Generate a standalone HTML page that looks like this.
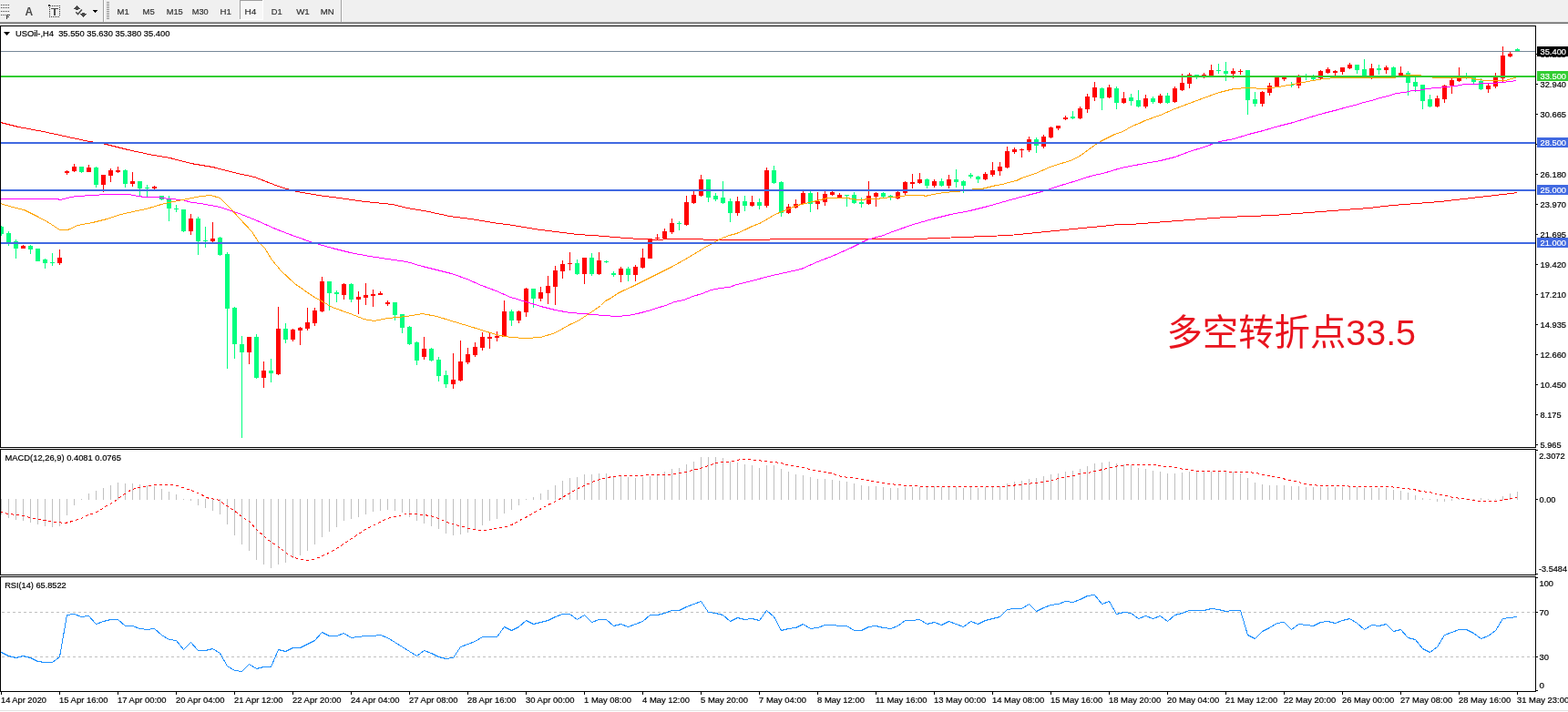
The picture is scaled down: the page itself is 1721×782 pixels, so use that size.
<!DOCTYPE html>
<html><head><meta charset="utf-8"><title>USOil H4</title>
<style>html,body{margin:0;padding:0;background:#fff;width:1721px;height:782px;overflow:hidden}svg{display:block}text{shape-rendering:auto}</style>
</head><body>
<svg width="1721" height="782" viewBox="0 0 1721 782" shape-rendering="crispEdges"><rect x="0" y="0" width="1721" height="24" fill="#f0f0f0"/>
<rect x="0" y="24" width="1721" height="1" fill="#a0a0a0"/>
<rect x="0" y="25" width="1721" height="1" fill="#696969"/>
<rect x="1" y="5" width="1" height="1" fill="#404040"/>
<rect x="3" y="5" width="1" height="1" fill="#404040"/>
<rect x="5" y="5" width="1" height="1" fill="#404040"/>
<rect x="7" y="5" width="1" height="1" fill="#404040"/>
<rect x="9" y="5" width="1" height="1" fill="#404040"/>
<rect x="1" y="8" width="1" height="1" fill="#404040"/>
<rect x="3" y="8" width="1" height="1" fill="#404040"/>
<rect x="5" y="8" width="1" height="1" fill="#404040"/>
<rect x="7" y="8" width="1" height="1" fill="#404040"/>
<rect x="9" y="8" width="1" height="1" fill="#404040"/>
<rect x="1" y="12" width="1" height="1" fill="#404040"/>
<rect x="3" y="12" width="1" height="1" fill="#404040"/>
<rect x="5" y="12" width="1" height="1" fill="#404040"/>
<rect x="7" y="12" width="1" height="1" fill="#404040"/>
<rect x="9" y="12" width="1" height="1" fill="#404040"/>
<rect x="1" y="16" width="1" height="1" fill="#404040"/>
<rect x="3" y="16" width="1" height="1" fill="#404040"/>
<rect x="5" y="16" width="1" height="1" fill="#404040"/>
<rect x="7" y="16" width="1" height="5" fill="#404040"/>
<rect x="7" y="16" width="4" height="1" fill="#404040"/>
<rect x="7" y="18" width="3" height="1" fill="#404040"/>
<text x="27.5" y="17" font-size="12" font-weight="bold" fill="#4a4a4a" font-family="Liberation Sans, sans-serif">A</text>
<rect x="57" y="6" width="1" height="1" fill="#303030"/>
<rect x="59" y="6" width="1" height="1" fill="#303030"/>
<rect x="61" y="6" width="1" height="1" fill="#303030"/>
<rect x="63" y="6" width="1" height="1" fill="#303030"/>
<rect x="65" y="6" width="1" height="1" fill="#303030"/>
<rect x="54" y="8" width="1" height="1" fill="#303030"/>
<rect x="54" y="10" width="1" height="1" fill="#303030"/>
<rect x="54" y="12" width="1" height="1" fill="#303030"/>
<rect x="54" y="14" width="1" height="1" fill="#303030"/>
<rect x="54" y="16" width="1" height="1" fill="#303030"/>
<rect x="54" y="18" width="1" height="1" fill="#303030"/>
<rect x="65" y="8" width="1" height="1" fill="#303030"/>
<rect x="65" y="10" width="1" height="1" fill="#303030"/>
<rect x="65" y="12" width="1" height="1" fill="#303030"/>
<rect x="65" y="14" width="1" height="1" fill="#303030"/>
<rect x="65" y="16" width="1" height="1" fill="#303030"/>
<rect x="56" y="18" width="1" height="1" fill="#303030"/>
<rect x="58" y="18" width="1" height="1" fill="#303030"/>
<rect x="60" y="18" width="1" height="1" fill="#303030"/>
<rect x="62" y="18" width="1" height="1" fill="#303030"/>
<rect x="64" y="18" width="1" height="1" fill="#303030"/>
<rect x="53" y="5" width="2" height="2" fill="#303030"/>
<rect x="55" y="6" width="1" height="1" fill="#606060"/>
<rect x="56" y="9" width="8" height="1" fill="#505050"/>
<rect x="59" y="9" width="2" height="8" fill="#505050"/>
<path d="M81,10 L84.5,6 L88,10 L86,10 L86,11 L83,11 L83,10 Z" fill="#4a4a4a"/>
<path d="M90,14 L93,14 L93,15.3 L95,15.3 L91.5,19 L88,15.3 L90,15.3 Z" fill="#4a4a4a"/>
<path d="M83.3,13.3 L85.5,15.6 L89.9,10.5" fill="none" stroke="#4a4a4a" stroke-width="1.5" shape-rendering="auto"/>
<path d="M102,11 L107.5,11 L104.75,14 Z" fill="#000"/>
<rect x="113" y="0" width="1" height="24" fill="#a0a0a0"/>
<rect x="114" y="0" width="1" height="24" fill="#ffffff"/>
<rect x="117" y="2" width="3" height="1" fill="#909090"/>
<rect x="117" y="4" width="3" height="1" fill="#909090"/>
<rect x="117" y="6" width="3" height="1" fill="#909090"/>
<rect x="117" y="8" width="3" height="1" fill="#909090"/>
<rect x="117" y="10" width="3" height="1" fill="#909090"/>
<rect x="117" y="12" width="3" height="1" fill="#909090"/>
<rect x="117" y="14" width="3" height="1" fill="#909090"/>
<rect x="117" y="16" width="3" height="1" fill="#909090"/>
<rect x="117" y="18" width="3" height="1" fill="#909090"/>
<rect x="117" y="20" width="3" height="1" fill="#909090"/>
<rect x="263" y="0" width="25" height="22" fill="#f7f7f7"/>
<rect x="263" y="0" width="1" height="22" fill="#a0a0a0"/>
<rect x="263" y="0" width="25" height="1" fill="#a0a0a0"/>
<rect x="288" y="0" width="1" height="22" fill="#ffffff"/>
<rect x="263" y="21" width="26" height="1" fill="#ffffff"/>
<g font-family="Liberation Sans, DejaVu Sans, sans-serif" fill="#333">
<text x="128.6" y="16" font-size="9.9" fill="#333" stroke="#333" stroke-width="0.2" textLength="13.2" lengthAdjust="spacingAndGlyphs">M1</text>
<text x="156.6" y="16" font-size="9.9" fill="#333" stroke="#333" stroke-width="0.2" textLength="13.2" lengthAdjust="spacingAndGlyphs">M5</text>
<text x="182.7" y="16" font-size="9.9" fill="#333" stroke="#333" stroke-width="0.2" textLength="18.1" lengthAdjust="spacingAndGlyphs">M15</text>
<text x="210.7" y="16" font-size="9.9" fill="#333" stroke="#333" stroke-width="0.2" textLength="18.0" lengthAdjust="spacingAndGlyphs">M30</text>
<text x="241.5" y="16" font-size="9.9" fill="#333" stroke="#333" stroke-width="0.2" textLength="12.4" lengthAdjust="spacingAndGlyphs">H1</text>
<text x="268.6" y="16" font-size="9.9" fill="#333" stroke="#333" stroke-width="0.2" textLength="12.799999999999999" lengthAdjust="spacingAndGlyphs">H4</text>
<text x="297.8" y="16" font-size="9.9" fill="#333" stroke="#333" stroke-width="0.2" textLength="11.9" lengthAdjust="spacingAndGlyphs">D1</text>
<text x="325.2" y="16" font-size="9.9" fill="#333" stroke="#333" stroke-width="0.2" textLength="14.6" lengthAdjust="spacingAndGlyphs">W1</text>
<text x="351.8" y="16" font-size="9.9" fill="#333" stroke="#333" stroke-width="0.2" textLength="15.0" lengthAdjust="spacingAndGlyphs">MN</text>
</g>
<rect x="374" y="0" width="1" height="24" fill="#a0a0a0"/>
<rect x="375" y="0" width="1" height="24" fill="#ffffff"/>
<rect x="0" y="28" width="1686" height="1" fill="#000"/>
<rect x="0" y="491" width="1686" height="1" fill="#000"/>
<rect x="0" y="28" width="1" height="464" fill="#000"/>
<rect x="1685" y="28" width="1" height="464" fill="#000"/>
<rect x="0" y="493" width="1686" height="1" fill="#000"/>
<rect x="0" y="631" width="1686" height="1" fill="#000"/>
<rect x="0" y="493" width="1" height="139" fill="#000"/>
<rect x="1685" y="493" width="1" height="139" fill="#000"/>
<rect x="0" y="633" width="1686" height="1" fill="#000"/>
<rect x="0" y="759" width="1686" height="1" fill="#000"/>
<rect x="0" y="633" width="1" height="127" fill="#000"/>
<rect x="1685" y="633" width="1" height="127" fill="#000"/>
<path d="M4,35 L11,35 L7.5,39 Z" fill="#000" shape-rendering="auto"/>
<g font-family="Liberation Sans, DejaVu Sans, sans-serif">
<text x="16.9" y="40" font-size="9.6" fill="#000" stroke="#000" stroke-width="0.2" textLength="169.5" lengthAdjust="spacingAndGlyphs" xml:space="preserve">USOil-,H4  35.550 35.630 35.380 35.400</text>
</g>
<defs><clipPath id="cm"><rect x="1" y="29" width="1684" height="462"/></clipPath><clipPath id="cd"><rect x="1" y="494" width="1684" height="137"/></clipPath><clipPath id="cr"><rect x="1" y="634" width="1684" height="125"/></clipPath></defs>
<g clip-path="url(#cm)">
<rect x="1" y="248" width="1" height="11" fill="#00ff7f"/>
<rect x="-1" y="249" width="5" height="8" fill="#00ff7f"/>
<rect x="9" y="254" width="1" height="16" fill="#00ff7f"/>
<rect x="7" y="256" width="5" height="10" fill="#00ff7f"/>
<rect x="17" y="263" width="1" height="21" fill="#00ff7f"/>
<rect x="15" y="265" width="5" height="8" fill="#00ff7f"/>
<rect x="25" y="269" width="1" height="4" fill="#ff0000"/>
<rect x="23" y="270" width="5" height="3" fill="#ff0000"/>
<rect x="33" y="269" width="1" height="10" fill="#00ff7f"/>
<rect x="31" y="270" width="5" height="4" fill="#00ff7f"/>
<rect x="41" y="273" width="1" height="14" fill="#00ff7f"/>
<rect x="39" y="273" width="5" height="14" fill="#00ff7f"/>
<rect x="49" y="284" width="1" height="11" fill="#00ff7f"/>
<rect x="47" y="285" width="5" height="4" fill="#00ff7f"/>
<rect x="57" y="278" width="1" height="14" fill="#00ff7f"/>
<rect x="55" y="288" width="5" height="1" fill="#00ff7f"/>
<rect x="65" y="274" width="1" height="17" fill="#ff0000"/>
<rect x="63" y="283" width="5" height="6" fill="#ff0000"/>
<rect x="73" y="187" width="1" height="5" fill="#ff0000"/>
<rect x="71" y="188" width="5" height="2" fill="#ff0000"/>
<rect x="81" y="180" width="1" height="9" fill="#ff0000"/>
<rect x="79" y="183" width="5" height="5" fill="#ff0000"/>
<rect x="89" y="183" width="1" height="7" fill="#00ff7f"/>
<rect x="87" y="183" width="5" height="6" fill="#00ff7f"/>
<rect x="97" y="181" width="1" height="8" fill="#ff0000"/>
<rect x="95" y="184" width="5" height="5" fill="#ff0000"/>
<rect x="105" y="183" width="1" height="23" fill="#00ff7f"/>
<rect x="103" y="184" width="5" height="19" fill="#00ff7f"/>
<rect x="113" y="192" width="1" height="19" fill="#ff0000"/>
<rect x="111" y="192" width="5" height="11" fill="#ff0000"/>
<rect x="121" y="185" width="1" height="15" fill="#ff0000"/>
<rect x="119" y="187" width="5" height="6" fill="#ff0000"/>
<rect x="129" y="183" width="1" height="7" fill="#ff0000"/>
<rect x="127" y="187" width="5" height="2" fill="#ff0000"/>
<rect x="137" y="186" width="1" height="20" fill="#00ff7f"/>
<rect x="135" y="187" width="5" height="15" fill="#00ff7f"/>
<rect x="145" y="189" width="1" height="16" fill="#ff0000"/>
<rect x="143" y="199" width="5" height="3" fill="#ff0000"/>
<rect x="153" y="199" width="1" height="16" fill="#00ff7f"/>
<rect x="151" y="199" width="5" height="8" fill="#00ff7f"/>
<rect x="161" y="203" width="1" height="13" fill="#00ff7f"/>
<rect x="159" y="206" width="5" height="1" fill="#00ff7f"/>
<rect x="169" y="204" width="1" height="4" fill="#ff0000"/>
<rect x="167" y="205" width="5" height="2" fill="#ff0000"/>
<rect x="177" y="215" width="1" height="5" fill="#00ff7f"/>
<rect x="175" y="215" width="5" height="4" fill="#00ff7f"/>
<rect x="185" y="215" width="1" height="28" fill="#00ff7f"/>
<rect x="183" y="219" width="5" height="10" fill="#00ff7f"/>
<rect x="193" y="225" width="1" height="8" fill="#00ff7f"/>
<rect x="191" y="229" width="5" height="1" fill="#00ff7f"/>
<rect x="201" y="230" width="1" height="25" fill="#00ff7f"/>
<rect x="199" y="230" width="5" height="24" fill="#00ff7f"/>
<rect x="209" y="235" width="1" height="23" fill="#ff0000"/>
<rect x="207" y="240" width="5" height="14" fill="#ff0000"/>
<rect x="217" y="238" width="1" height="42" fill="#00ff7f"/>
<rect x="215" y="240" width="5" height="25" fill="#00ff7f"/>
<rect x="225" y="249" width="1" height="23" fill="#00ff7f"/>
<rect x="223" y="264" width="5" height="1" fill="#00ff7f"/>
<rect x="233" y="244" width="1" height="22" fill="#ff0000"/>
<rect x="231" y="262" width="5" height="3" fill="#ff0000"/>
<rect x="241" y="260" width="1" height="21" fill="#00ff7f"/>
<rect x="239" y="261" width="5" height="19" fill="#00ff7f"/>
<rect x="249" y="277" width="1" height="128" fill="#00ff7f"/>
<rect x="247" y="279" width="5" height="60" fill="#00ff7f"/>
<rect x="257" y="337" width="1" height="57" fill="#00ff7f"/>
<rect x="255" y="338" width="5" height="40" fill="#00ff7f"/>
<rect x="265" y="369" width="1" height="112" fill="#00ff7f"/>
<rect x="263" y="378" width="5" height="9" fill="#00ff7f"/>
<rect x="273" y="370" width="1" height="30" fill="#ff0000"/>
<rect x="271" y="370" width="5" height="17" fill="#ff0000"/>
<rect x="281" y="367" width="1" height="49" fill="#00ff7f"/>
<rect x="279" y="370" width="5" height="45" fill="#00ff7f"/>
<rect x="289" y="397" width="1" height="29" fill="#ff0000"/>
<rect x="287" y="407" width="5" height="8" fill="#ff0000"/>
<rect x="297" y="394" width="1" height="26" fill="#00ff7f"/>
<rect x="295" y="407" width="5" height="3" fill="#00ff7f"/>
<rect x="305" y="337" width="1" height="75" fill="#ff0000"/>
<rect x="303" y="361" width="5" height="50" fill="#ff0000"/>
<rect x="313" y="355" width="1" height="22" fill="#00ff7f"/>
<rect x="311" y="361" width="5" height="12" fill="#00ff7f"/>
<rect x="321" y="361" width="1" height="14" fill="#ff0000"/>
<rect x="319" y="362" width="5" height="11" fill="#ff0000"/>
<rect x="329" y="359" width="1" height="20" fill="#ff0000"/>
<rect x="327" y="360" width="5" height="3" fill="#ff0000"/>
<rect x="337" y="338" width="1" height="25" fill="#ff0000"/>
<rect x="335" y="354" width="5" height="7" fill="#ff0000"/>
<rect x="345" y="338" width="1" height="20" fill="#ff0000"/>
<rect x="343" y="341" width="5" height="14" fill="#ff0000"/>
<rect x="353" y="304" width="1" height="39" fill="#ff0000"/>
<rect x="351" y="309" width="5" height="33" fill="#ff0000"/>
<rect x="361" y="309" width="1" height="32" fill="#00ff7f"/>
<rect x="359" y="309" width="5" height="13" fill="#00ff7f"/>
<rect x="369" y="319" width="1" height="13" fill="#00ff7f"/>
<rect x="367" y="321" width="5" height="2" fill="#00ff7f"/>
<rect x="377" y="311" width="1" height="18" fill="#ff0000"/>
<rect x="375" y="312" width="5" height="12" fill="#ff0000"/>
<rect x="385" y="311" width="1" height="21" fill="#00ff7f"/>
<rect x="383" y="312" width="5" height="17" fill="#00ff7f"/>
<rect x="393" y="320" width="1" height="25" fill="#ff0000"/>
<rect x="391" y="326" width="5" height="3" fill="#ff0000"/>
<rect x="401" y="311" width="1" height="24" fill="#ff0000"/>
<rect x="399" y="324" width="5" height="3" fill="#ff0000"/>
<rect x="409" y="318" width="1" height="19" fill="#ff0000"/>
<rect x="407" y="323" width="5" height="2" fill="#ff0000"/>
<rect x="417" y="320" width="1" height="4" fill="#ff0000"/>
<rect x="415" y="322" width="5" height="2" fill="#ff0000"/>
<rect x="425" y="330" width="1" height="6" fill="#ff0000"/>
<rect x="423" y="332" width="5" height="2" fill="#ff0000"/>
<rect x="433" y="332" width="1" height="20" fill="#00ff7f"/>
<rect x="431" y="332" width="5" height="14" fill="#00ff7f"/>
<rect x="441" y="345" width="1" height="21" fill="#00ff7f"/>
<rect x="439" y="345" width="5" height="15" fill="#00ff7f"/>
<rect x="449" y="358" width="1" height="21" fill="#00ff7f"/>
<rect x="447" y="359" width="5" height="19" fill="#00ff7f"/>
<rect x="457" y="375" width="1" height="26" fill="#00ff7f"/>
<rect x="455" y="376" width="5" height="20" fill="#00ff7f"/>
<rect x="465" y="370" width="1" height="25" fill="#ff0000"/>
<rect x="463" y="383" width="5" height="9" fill="#ff0000"/>
<rect x="473" y="382" width="1" height="15" fill="#00ff7f"/>
<rect x="471" y="383" width="5" height="13" fill="#00ff7f"/>
<rect x="481" y="392" width="1" height="27" fill="#00ff7f"/>
<rect x="479" y="395" width="5" height="18" fill="#00ff7f"/>
<rect x="489" y="407" width="1" height="19" fill="#00ff7f"/>
<rect x="487" y="412" width="5" height="10" fill="#00ff7f"/>
<rect x="497" y="388" width="1" height="39" fill="#ff0000"/>
<rect x="495" y="417" width="5" height="5" fill="#ff0000"/>
<rect x="505" y="374" width="1" height="45" fill="#ff0000"/>
<rect x="503" y="397" width="5" height="21" fill="#ff0000"/>
<rect x="513" y="382" width="1" height="18" fill="#ff0000"/>
<rect x="511" y="389" width="5" height="9" fill="#ff0000"/>
<rect x="521" y="376" width="1" height="16" fill="#ff0000"/>
<rect x="519" y="381" width="5" height="9" fill="#ff0000"/>
<rect x="529" y="365" width="1" height="20" fill="#ff0000"/>
<rect x="527" y="370" width="5" height="12" fill="#ff0000"/>
<rect x="537" y="365" width="1" height="18" fill="#ff0000"/>
<rect x="535" y="370" width="5" height="2" fill="#ff0000"/>
<rect x="545" y="364" width="1" height="11" fill="#ff0000"/>
<rect x="543" y="369" width="5" height="2" fill="#ff0000"/>
<rect x="553" y="330" width="1" height="40" fill="#ff0000"/>
<rect x="551" y="342" width="5" height="28" fill="#ff0000"/>
<rect x="561" y="340" width="1" height="18" fill="#00ff7f"/>
<rect x="559" y="342" width="5" height="10" fill="#00ff7f"/>
<rect x="569" y="341" width="1" height="14" fill="#ff0000"/>
<rect x="567" y="342" width="5" height="10" fill="#ff0000"/>
<rect x="577" y="316" width="1" height="32" fill="#ff0000"/>
<rect x="575" y="317" width="5" height="26" fill="#ff0000"/>
<rect x="585" y="317" width="1" height="21" fill="#00ff7f"/>
<rect x="583" y="317" width="5" height="11" fill="#00ff7f"/>
<rect x="593" y="315" width="1" height="16" fill="#ff0000"/>
<rect x="591" y="321" width="5" height="7" fill="#ff0000"/>
<rect x="601" y="303" width="1" height="31" fill="#ff0000"/>
<rect x="599" y="314" width="5" height="8" fill="#ff0000"/>
<rect x="609" y="292" width="1" height="43" fill="#ff0000"/>
<rect x="607" y="297" width="5" height="18" fill="#ff0000"/>
<rect x="617" y="286" width="1" height="20" fill="#ff0000"/>
<rect x="615" y="290" width="5" height="8" fill="#ff0000"/>
<rect x="625" y="277" width="1" height="20" fill="#ff0000"/>
<rect x="623" y="289" width="5" height="1" fill="#ff0000"/>
<rect x="633" y="285" width="1" height="17" fill="#00ff7f"/>
<rect x="631" y="289" width="5" height="12" fill="#00ff7f"/>
<rect x="641" y="283" width="1" height="29" fill="#ff0000"/>
<rect x="639" y="283" width="5" height="18" fill="#ff0000"/>
<rect x="649" y="278" width="1" height="25" fill="#00ff7f"/>
<rect x="647" y="283" width="5" height="18" fill="#00ff7f"/>
<rect x="657" y="277" width="1" height="25" fill="#ff0000"/>
<rect x="655" y="286" width="5" height="15" fill="#ff0000"/>
<rect x="665" y="286" width="1" height="3" fill="#00ff7f"/>
<rect x="663" y="287" width="5" height="1" fill="#00ff7f"/>
<rect x="673" y="298" width="1" height="6" fill="#00ff7f"/>
<rect x="671" y="300" width="5" height="2" fill="#00ff7f"/>
<rect x="681" y="293" width="1" height="17" fill="#ff0000"/>
<rect x="679" y="295" width="5" height="7" fill="#ff0000"/>
<rect x="689" y="293" width="1" height="16" fill="#00ff7f"/>
<rect x="687" y="295" width="5" height="7" fill="#00ff7f"/>
<rect x="697" y="291" width="1" height="18" fill="#ff0000"/>
<rect x="695" y="293" width="5" height="9" fill="#ff0000"/>
<rect x="705" y="273" width="1" height="22" fill="#ff0000"/>
<rect x="703" y="283" width="5" height="11" fill="#ff0000"/>
<rect x="713" y="262" width="1" height="22" fill="#ff0000"/>
<rect x="711" y="262" width="5" height="22" fill="#ff0000"/>
<rect x="721" y="257" width="1" height="7" fill="#ff0000"/>
<rect x="719" y="261" width="5" height="1" fill="#ff0000"/>
<rect x="729" y="251" width="1" height="12" fill="#ff0000"/>
<rect x="727" y="254" width="5" height="8" fill="#ff0000"/>
<rect x="737" y="240" width="1" height="17" fill="#ff0000"/>
<rect x="735" y="245" width="5" height="10" fill="#ff0000"/>
<rect x="745" y="243" width="1" height="10" fill="#00ff7f"/>
<rect x="743" y="245" width="5" height="1" fill="#00ff7f"/>
<rect x="753" y="215" width="1" height="33" fill="#ff0000"/>
<rect x="751" y="222" width="5" height="25" fill="#ff0000"/>
<rect x="761" y="210" width="1" height="14" fill="#ff0000"/>
<rect x="759" y="214" width="5" height="9" fill="#ff0000"/>
<rect x="769" y="192" width="1" height="24" fill="#ff0000"/>
<rect x="767" y="197" width="5" height="18" fill="#ff0000"/>
<rect x="777" y="197" width="1" height="25" fill="#00ff7f"/>
<rect x="775" y="197" width="5" height="20" fill="#00ff7f"/>
<rect x="785" y="212" width="1" height="9" fill="#00ff7f"/>
<rect x="783" y="215" width="5" height="4" fill="#00ff7f"/>
<rect x="793" y="199" width="1" height="25" fill="#00ff7f"/>
<rect x="791" y="217" width="5" height="6" fill="#00ff7f"/>
<rect x="801" y="218" width="1" height="26" fill="#00ff7f"/>
<rect x="799" y="221" width="5" height="13" fill="#00ff7f"/>
<rect x="809" y="216" width="1" height="21" fill="#ff0000"/>
<rect x="807" y="221" width="5" height="13" fill="#ff0000"/>
<rect x="817" y="215" width="1" height="17" fill="#00ff7f"/>
<rect x="815" y="221" width="5" height="5" fill="#00ff7f"/>
<rect x="825" y="215" width="1" height="12" fill="#ff0000"/>
<rect x="823" y="222" width="5" height="4" fill="#ff0000"/>
<rect x="833" y="218" width="1" height="12" fill="#00ff7f"/>
<rect x="831" y="222" width="5" height="4" fill="#00ff7f"/>
<rect x="841" y="184" width="1" height="44" fill="#ff0000"/>
<rect x="839" y="187" width="5" height="39" fill="#ff0000"/>
<rect x="849" y="182" width="1" height="20" fill="#00ff7f"/>
<rect x="847" y="187" width="5" height="14" fill="#00ff7f"/>
<rect x="857" y="199" width="1" height="39" fill="#00ff7f"/>
<rect x="855" y="200" width="5" height="34" fill="#00ff7f"/>
<rect x="865" y="224" width="1" height="11" fill="#ff0000"/>
<rect x="863" y="227" width="5" height="7" fill="#ff0000"/>
<rect x="873" y="219" width="1" height="10" fill="#ff0000"/>
<rect x="871" y="224" width="5" height="4" fill="#ff0000"/>
<rect x="881" y="210" width="1" height="15" fill="#ff0000"/>
<rect x="879" y="212" width="5" height="12" fill="#ff0000"/>
<rect x="889" y="210" width="1" height="23" fill="#00ff7f"/>
<rect x="887" y="212" width="5" height="12" fill="#00ff7f"/>
<rect x="897" y="211" width="1" height="19" fill="#ff0000"/>
<rect x="895" y="221" width="5" height="3" fill="#ff0000"/>
<rect x="905" y="210" width="1" height="16" fill="#ff0000"/>
<rect x="903" y="213" width="5" height="9" fill="#ff0000"/>
<rect x="913" y="210" width="1" height="5" fill="#ff0000"/>
<rect x="911" y="211" width="5" height="3" fill="#ff0000"/>
<rect x="921" y="212" width="1" height="6" fill="#ff0000"/>
<rect x="919" y="214" width="5" height="3" fill="#ff0000"/>
<rect x="929" y="214" width="1" height="13" fill="#00ff7f"/>
<rect x="927" y="214" width="5" height="1" fill="#00ff7f"/>
<rect x="937" y="211" width="1" height="13" fill="#00ff7f"/>
<rect x="935" y="214" width="5" height="9" fill="#00ff7f"/>
<rect x="945" y="217" width="1" height="11" fill="#00ff7f"/>
<rect x="943" y="222" width="5" height="2" fill="#00ff7f"/>
<rect x="953" y="199" width="1" height="26" fill="#ff0000"/>
<rect x="951" y="215" width="5" height="9" fill="#ff0000"/>
<rect x="961" y="211" width="1" height="16" fill="#ff0000"/>
<rect x="959" y="212" width="5" height="4" fill="#ff0000"/>
<rect x="969" y="211" width="1" height="6" fill="#00ff7f"/>
<rect x="967" y="212" width="5" height="4" fill="#00ff7f"/>
<rect x="977" y="214" width="1" height="6" fill="#00ff7f"/>
<rect x="975" y="215" width="5" height="2" fill="#00ff7f"/>
<rect x="985" y="210" width="1" height="9" fill="#ff0000"/>
<rect x="983" y="211" width="5" height="7" fill="#ff0000"/>
<rect x="993" y="199" width="1" height="15" fill="#ff0000"/>
<rect x="991" y="200" width="5" height="12" fill="#ff0000"/>
<rect x="1001" y="191" width="1" height="16" fill="#ff0000"/>
<rect x="999" y="200" width="5" height="2" fill="#ff0000"/>
<rect x="1009" y="190" width="1" height="12" fill="#ff0000"/>
<rect x="1007" y="197" width="5" height="4" fill="#ff0000"/>
<rect x="1017" y="196" width="1" height="11" fill="#00ff7f"/>
<rect x="1015" y="197" width="5" height="7" fill="#00ff7f"/>
<rect x="1025" y="197" width="1" height="9" fill="#ff0000"/>
<rect x="1023" y="199" width="5" height="5" fill="#ff0000"/>
<rect x="1033" y="196" width="1" height="9" fill="#00ff7f"/>
<rect x="1031" y="199" width="5" height="5" fill="#00ff7f"/>
<rect x="1041" y="192" width="1" height="15" fill="#ff0000"/>
<rect x="1039" y="197" width="5" height="7" fill="#ff0000"/>
<rect x="1049" y="186" width="1" height="20" fill="#00ff7f"/>
<rect x="1047" y="197" width="5" height="3" fill="#00ff7f"/>
<rect x="1057" y="198" width="1" height="14" fill="#00ff7f"/>
<rect x="1055" y="199" width="5" height="5" fill="#00ff7f"/>
<rect x="1065" y="190" width="1" height="6" fill="#00ff7f"/>
<rect x="1063" y="192" width="5" height="2" fill="#00ff7f"/>
<rect x="1073" y="193" width="1" height="8" fill="#00ff7f"/>
<rect x="1071" y="194" width="5" height="3" fill="#00ff7f"/>
<rect x="1081" y="189" width="1" height="9" fill="#ff0000"/>
<rect x="1079" y="191" width="5" height="6" fill="#ff0000"/>
<rect x="1089" y="178" width="1" height="16" fill="#ff0000"/>
<rect x="1087" y="187" width="5" height="5" fill="#ff0000"/>
<rect x="1097" y="178" width="1" height="15" fill="#ff0000"/>
<rect x="1095" y="183" width="5" height="5" fill="#ff0000"/>
<rect x="1105" y="161" width="1" height="24" fill="#ff0000"/>
<rect x="1103" y="166" width="5" height="18" fill="#ff0000"/>
<rect x="1113" y="162" width="1" height="7" fill="#ff0000"/>
<rect x="1111" y="164" width="5" height="3" fill="#ff0000"/>
<rect x="1121" y="163" width="1" height="10" fill="#ff0000"/>
<rect x="1119" y="164" width="5" height="1" fill="#ff0000"/>
<rect x="1129" y="150" width="1" height="17" fill="#ff0000"/>
<rect x="1127" y="153" width="5" height="12" fill="#ff0000"/>
<rect x="1137" y="151" width="1" height="17" fill="#00ff7f"/>
<rect x="1135" y="153" width="5" height="7" fill="#00ff7f"/>
<rect x="1145" y="148" width="1" height="15" fill="#ff0000"/>
<rect x="1143" y="150" width="5" height="11" fill="#ff0000"/>
<rect x="1153" y="139" width="1" height="13" fill="#ff0000"/>
<rect x="1151" y="140" width="5" height="11" fill="#ff0000"/>
<rect x="1161" y="138" width="1" height="5" fill="#ff0000"/>
<rect x="1159" y="138" width="5" height="3" fill="#ff0000"/>
<rect x="1169" y="127" width="1" height="5" fill="#ff0000"/>
<rect x="1167" y="129" width="5" height="2" fill="#ff0000"/>
<rect x="1177" y="122" width="1" height="9" fill="#00ff7f"/>
<rect x="1175" y="128" width="5" height="2" fill="#00ff7f"/>
<rect x="1185" y="117" width="1" height="14" fill="#ff0000"/>
<rect x="1183" y="119" width="5" height="11" fill="#ff0000"/>
<rect x="1193" y="103" width="1" height="21" fill="#ff0000"/>
<rect x="1191" y="106" width="5" height="14" fill="#ff0000"/>
<rect x="1201" y="90" width="1" height="21" fill="#ff0000"/>
<rect x="1199" y="96" width="5" height="11" fill="#ff0000"/>
<rect x="1209" y="96" width="1" height="25" fill="#00ff7f"/>
<rect x="1207" y="97" width="5" height="11" fill="#00ff7f"/>
<rect x="1217" y="93" width="1" height="15" fill="#ff0000"/>
<rect x="1215" y="96" width="5" height="11" fill="#ff0000"/>
<rect x="1225" y="95" width="1" height="25" fill="#00ff7f"/>
<rect x="1223" y="97" width="5" height="16" fill="#00ff7f"/>
<rect x="1233" y="101" width="1" height="13" fill="#ff0000"/>
<rect x="1231" y="108" width="5" height="5" fill="#ff0000"/>
<rect x="1241" y="103" width="1" height="13" fill="#00ff7f"/>
<rect x="1239" y="107" width="5" height="4" fill="#00ff7f"/>
<rect x="1249" y="99" width="1" height="19" fill="#00ff7f"/>
<rect x="1247" y="110" width="5" height="7" fill="#00ff7f"/>
<rect x="1257" y="104" width="1" height="15" fill="#ff0000"/>
<rect x="1255" y="108" width="5" height="9" fill="#ff0000"/>
<rect x="1265" y="106" width="1" height="8" fill="#00ff7f"/>
<rect x="1263" y="108" width="5" height="4" fill="#00ff7f"/>
<rect x="1273" y="103" width="1" height="11" fill="#ff0000"/>
<rect x="1271" y="105" width="5" height="8" fill="#ff0000"/>
<rect x="1281" y="102" width="1" height="12" fill="#00ff7f"/>
<rect x="1279" y="105" width="5" height="8" fill="#00ff7f"/>
<rect x="1289" y="95" width="1" height="18" fill="#ff0000"/>
<rect x="1287" y="97" width="5" height="15" fill="#ff0000"/>
<rect x="1297" y="81" width="1" height="19" fill="#ff0000"/>
<rect x="1295" y="91" width="5" height="8" fill="#ff0000"/>
<rect x="1305" y="80" width="1" height="17" fill="#ff0000"/>
<rect x="1303" y="82" width="5" height="10" fill="#ff0000"/>
<rect x="1313" y="82" width="1" height="5" fill="#00ff7f"/>
<rect x="1311" y="82" width="5" height="2" fill="#00ff7f"/>
<rect x="1321" y="80" width="1" height="6" fill="#ff0000"/>
<rect x="1319" y="82" width="5" height="2" fill="#ff0000"/>
<rect x="1329" y="71" width="1" height="14" fill="#ff0000"/>
<rect x="1327" y="77" width="5" height="7" fill="#ff0000"/>
<rect x="1337" y="70" width="1" height="11" fill="#00ff7f"/>
<rect x="1335" y="77" width="5" height="1" fill="#00ff7f"/>
<rect x="1345" y="68" width="1" height="21" fill="#00ff7f"/>
<rect x="1343" y="78" width="5" height="3" fill="#00ff7f"/>
<rect x="1353" y="75" width="1" height="11" fill="#ff0000"/>
<rect x="1351" y="78" width="5" height="3" fill="#ff0000"/>
<rect x="1361" y="76" width="1" height="6" fill="#ff0000"/>
<rect x="1359" y="78" width="5" height="1" fill="#ff0000"/>
<rect x="1369" y="77" width="1" height="49" fill="#00ff7f"/>
<rect x="1367" y="77" width="5" height="33" fill="#00ff7f"/>
<rect x="1377" y="101" width="1" height="16" fill="#00ff7f"/>
<rect x="1375" y="109" width="5" height="5" fill="#00ff7f"/>
<rect x="1385" y="100" width="1" height="17" fill="#ff0000"/>
<rect x="1383" y="101" width="5" height="13" fill="#ff0000"/>
<rect x="1393" y="91" width="1" height="14" fill="#ff0000"/>
<rect x="1391" y="94" width="5" height="8" fill="#ff0000"/>
<rect x="1401" y="84" width="1" height="12" fill="#ff0000"/>
<rect x="1399" y="85" width="5" height="10" fill="#ff0000"/>
<rect x="1409" y="84" width="1" height="5" fill="#ff0000"/>
<rect x="1407" y="85" width="5" height="2" fill="#ff0000"/>
<rect x="1417" y="90" width="1" height="6" fill="#00ff7f"/>
<rect x="1415" y="93" width="5" height="1" fill="#00ff7f"/>
<rect x="1425" y="82" width="1" height="15" fill="#ff0000"/>
<rect x="1423" y="85" width="5" height="9" fill="#ff0000"/>
<rect x="1433" y="81" width="1" height="7" fill="#00ff7f"/>
<rect x="1431" y="83" width="5" height="2" fill="#00ff7f"/>
<rect x="1441" y="82" width="1" height="7" fill="#00ff7f"/>
<rect x="1439" y="85" width="5" height="2" fill="#00ff7f"/>
<rect x="1449" y="77" width="1" height="10" fill="#ff0000"/>
<rect x="1447" y="78" width="5" height="8" fill="#ff0000"/>
<rect x="1457" y="74" width="1" height="7" fill="#ff0000"/>
<rect x="1455" y="76" width="5" height="4" fill="#ff0000"/>
<rect x="1465" y="77" width="1" height="6" fill="#ff0000"/>
<rect x="1463" y="78" width="5" height="2" fill="#ff0000"/>
<rect x="1473" y="74" width="1" height="8" fill="#ff0000"/>
<rect x="1471" y="74" width="5" height="5" fill="#ff0000"/>
<rect x="1481" y="69" width="1" height="7" fill="#ff0000"/>
<rect x="1479" y="71" width="5" height="4" fill="#ff0000"/>
<rect x="1489" y="71" width="1" height="10" fill="#00ff7f"/>
<rect x="1487" y="71" width="5" height="6" fill="#00ff7f"/>
<rect x="1497" y="65" width="1" height="19" fill="#00ff7f"/>
<rect x="1495" y="76" width="5" height="7" fill="#00ff7f"/>
<rect x="1505" y="70" width="1" height="17" fill="#ff0000"/>
<rect x="1503" y="75" width="5" height="8" fill="#ff0000"/>
<rect x="1513" y="71" width="1" height="11" fill="#00ff7f"/>
<rect x="1511" y="75" width="5" height="2" fill="#00ff7f"/>
<rect x="1521" y="72" width="1" height="9" fill="#ff0000"/>
<rect x="1519" y="74" width="5" height="3" fill="#ff0000"/>
<rect x="1529" y="73" width="1" height="12" fill="#00ff7f"/>
<rect x="1527" y="74" width="5" height="10" fill="#00ff7f"/>
<rect x="1537" y="73" width="1" height="11" fill="#ff0000"/>
<rect x="1535" y="80" width="5" height="3" fill="#ff0000"/>
<rect x="1545" y="78" width="1" height="27" fill="#00ff7f"/>
<rect x="1543" y="80" width="5" height="11" fill="#00ff7f"/>
<rect x="1553" y="85" width="1" height="16" fill="#00ff7f"/>
<rect x="1551" y="90" width="5" height="5" fill="#00ff7f"/>
<rect x="1561" y="93" width="1" height="27" fill="#00ff7f"/>
<rect x="1559" y="93" width="5" height="18" fill="#00ff7f"/>
<rect x="1569" y="104" width="1" height="14" fill="#00ff7f"/>
<rect x="1567" y="109" width="5" height="8" fill="#00ff7f"/>
<rect x="1577" y="105" width="1" height="13" fill="#ff0000"/>
<rect x="1575" y="108" width="5" height="9" fill="#ff0000"/>
<rect x="1585" y="93" width="1" height="20" fill="#ff0000"/>
<rect x="1583" y="94" width="5" height="15" fill="#ff0000"/>
<rect x="1593" y="86" width="1" height="17" fill="#ff0000"/>
<rect x="1591" y="88" width="5" height="6" fill="#ff0000"/>
<rect x="1601" y="74" width="1" height="16" fill="#ff0000"/>
<rect x="1599" y="86" width="5" height="3" fill="#ff0000"/>
<rect x="1609" y="80" width="1" height="7" fill="#00ff7f"/>
<rect x="1607" y="84" width="5" height="2" fill="#00ff7f"/>
<rect x="1617" y="85" width="1" height="7" fill="#00ff7f"/>
<rect x="1615" y="85" width="5" height="5" fill="#00ff7f"/>
<rect x="1625" y="86" width="1" height="13" fill="#00ff7f"/>
<rect x="1623" y="89" width="5" height="9" fill="#00ff7f"/>
<rect x="1633" y="92" width="1" height="10" fill="#ff0000"/>
<rect x="1631" y="94" width="5" height="4" fill="#ff0000"/>
<rect x="1641" y="80" width="1" height="17" fill="#ff0000"/>
<rect x="1639" y="84" width="5" height="11" fill="#ff0000"/>
<rect x="1649" y="51" width="1" height="39" fill="#ff0000"/>
<rect x="1647" y="61" width="5" height="25" fill="#ff0000"/>
<rect x="1657" y="56" width="1" height="7" fill="#ff0000"/>
<rect x="1655" y="59" width="5" height="3" fill="#ff0000"/>
<rect x="1665" y="53" width="1" height="4" fill="#00ff7f"/>
<rect x="1663" y="54" width="5" height="3" fill="#00ff7f"/>
<polyline points="0.5,134.5 20.5,139.5 47.5,144.5 93.5,154.5 116.5,158.5 140.5,164.5 163.5,169.5 186.5,173.5 209.5,179.5 233.5,183.5 256.5,189.5 279.5,194.5 302.5,203.5 314.5,207.5 326.5,210.5 349.5,214.5 372.5,217.5 400.5,221.5 430.5,224.5 447.5,228.5 470.5,232.5 493.5,237.5 516.5,240.5 540.5,244.5 563.5,247.5 586.5,251.5 609.5,254.5 633.5,257.5 650.5,258.5 662.5,259.5 674.5,260.5 686.5,261.5 703.5,262.5 720.5,263.5 735.5,262.5 760.5,262.5 782.5,263.5 840.5,263.5 850.5,262.5 1005.5,262.5 1056.5,260.5 1107.5,258.5 1158.5,253.5 1187.5,250.5 1209.5,248.5 1227.5,246.5 1240.5,246.5 1266.5,244.5 1292.5,242.5 1318.5,240.5 1345.5,238.5 1371.5,237.5 1397.5,236.5 1423.5,234.5 1449.5,232.5 1475.5,230.5 1502.5,228.5 1528.5,225.5 1554.5,223.5 1580.5,221.5 1606.5,218.5 1632.5,215.5 1658.5,212.5 1665.5,211.5" fill="none" stroke="#ff0000" stroke-width="1"/>
<polyline points="0.5,218.5 62.5,218.5 66.5,219.5 77.5,216.5 85.5,215.5 101.5,214.5 117.5,213.5 141.5,213.5 151.5,215.5 159.5,216.5 172.5,216.5 185.5,218.5 200.5,219.5 210.5,222.5 220.5,223.5 241.5,227.5 262.5,234.5 282.5,242.5 302.5,251.5 323.5,259.5 343.5,266.5 364.5,272.5 384.5,277.5 405.5,281.5 425.5,284.5 446.5,287.5 463.5,292.5 479.5,296.5 495.5,300.5 512.5,306.5 528.5,313.5 544.5,319.5 560.5,326.5 577.5,331.5 593.5,336.5 609.5,340.5 625.5,343.5 640.5,344.5 650.5,345.5 662.5,346.5 677.5,347.5 689.5,346.5 699.5,344.5 707.5,342.5 714.5,340.5 720.5,338.5 730.5,335.5 740.5,331.5 750.5,329.5 760.5,325.5 770.5,322.5 780.5,318.5 790.5,316.5 800.5,315.5 808.5,312.5 825.5,308.5 843.5,303.5 861.5,299.5 879.5,295.5 897.5,287.5 915.5,280.5 933.5,272.5 951.5,263.5 969.5,258.5 979.5,254.5 1002.5,246.5 1023.5,240.5 1043.5,235.5 1064.5,231.5 1084.5,226.5 1105.5,220.5 1127.5,214.5 1143.5,210.5 1152.5,207.5 1161.5,204.5 1171.5,201.5 1181.5,198.5 1190.5,195.5 1200.5,192.5 1210.5,190.5 1220.5,187.5 1230.5,184.5 1240.5,182.5 1256.5,179.5 1273.5,176.5 1289.5,172.5 1305.5,166.5 1321.5,161.5 1338.5,155.5 1354.5,152.5 1370.5,147.5 1386.5,143.5 1403.5,138.5 1419.5,134.5 1435.5,129.5 1452.5,124.5 1468.5,120.5 1478.5,117.5 1487.5,115.5 1496.5,112.5 1505.5,110.5 1514.5,107.5 1523.5,105.5 1532.5,102.5 1541.5,101.5 1550.5,99.5 1556.5,99.5 1566.5,97.5 1576.5,96.5 1587.5,95.5 1597.5,94.5 1607.5,92.5 1617.5,92.5 1628.5,91.5 1638.5,91.5 1648.5,90.5 1658.5,89.5 1664.5,88.5" fill="none" stroke="#ff00ff" stroke-width="1"/>
<polyline points="0.5,223.5 13.5,227.5 26.5,230.5 40.5,237.5 53.5,244.5 65.5,252.5 74.5,252.5 85.5,247.5 101.5,244.5 117.5,240.5 132.5,235.5 150.5,231.5 160.5,229.5 170.5,226.5 180.5,223.5 190.5,221.5 200.5,219.5 220.5,215.5 231.5,214.5 241.5,217.5 253.5,229.5 262.5,239.5 276.5,254.5 283.5,265.5 290.5,272.5 298.5,285.5 308.5,297.5 323.5,311.5 333.5,318.5 343.5,325.5 354.5,331.5 364.5,337.5 384.5,344.5 399.5,350.5 410.5,352.5 425.5,349.5 446.5,347.5 463.5,344.5 479.5,347.5 495.5,352.5 512.5,357.5 528.5,362.5 544.5,367.5 560.5,370.5 577.5,371.5 593.5,370.5 609.5,365.5 625.5,356.5 634.5,352.5 640.5,348.5 646.5,344.5 652.5,340.5 659.5,335.5 664.5,330.5 670.5,327.5 677.5,322.5 685.5,318.5 692.5,315.5 700.5,311.5 718.5,302.5 736.5,293.5 754.5,283.5 772.5,272.5 790.5,262.5 800.5,258.5 808.5,256.5 817.5,252.5 825.5,248.5 833.5,245.5 842.5,240.5 850.5,235.5 858.5,232.5 867.5,228.5 875.5,225.5 883.5,223.5 892.5,221.5 900.5,219.5 908.5,217.5 917.5,217.5 925.5,217.5 930.5,217.5 934.5,218.5 942.5,219.5 948.5,219.5 950.5,218.5 964.5,218.5 966.5,217.5 981.5,216.5 990.5,215.5 996.5,214.5 1013.5,214.5 1015.5,215.5 1019.5,214.5 1024.5,213.5 1029.5,212.5 1037.5,211.5 1046.5,210.5 1052.5,210.5 1055.5,209.5 1070.5,207.5 1077.5,207.5 1085.5,205.5 1093.5,203.5 1100.5,202.5 1106.5,200.5 1115.5,198.5 1121.5,195.5 1127.5,193.5 1136.5,190.5 1143.5,187.5 1152.5,183.5 1161.5,180.5 1171.5,177.5 1177.5,175.5 1186.5,170.5 1194.5,164.5 1201.5,159.5 1207.5,155.5 1215.5,151.5 1223.5,147.5 1232.5,144.5 1242.5,138.5 1250.5,135.5 1256.5,132.5 1273.5,126.5 1289.5,119.5 1305.5,113.5 1321.5,107.5 1338.5,101.5 1354.5,97.5 1370.5,96.5 1386.5,97.5 1403.5,95.5 1419.5,92.5 1435.5,89.5 1452.5,86.5 1468.5,85.5 1530.5,85.5 1541.5,82.5 1557.5,82.5 1574.5,85.5 1613.5,85.5 1621.5,87.5 1631.5,88.5 1652.5,88.5 1658.5,86.5 1664.5,85.5" fill="none" stroke="#ffa500" stroke-width="1"/>
<rect x="1" y="56" width="1684" height="1" fill="#778899"/>
<rect x="1" y="83" width="1684" height="2" fill="#32cd32"/>
<rect x="1" y="156" width="1684" height="2" fill="#4169e1"/>
<rect x="1" y="208" width="1684" height="2" fill="#4169e1"/>
<rect x="1" y="266" width="1684" height="2" fill="#4169e1"/>
</g>
<text x="1280.5" y="379" font-size="39.5" fill="#e8141e" textLength="273.5" lengthAdjust="spacingAndGlyphs" font-family="Liberation Sans, Noto Sans CJK SC, sans-serif">多空转折点33.5</text>
<g font-family="Liberation Sans, DejaVu Sans, sans-serif">
<rect x="1686" y="92" width="2" height="1" fill="#000"/>
<text x="1690.5" y="96" font-size="9.6" fill="#000" stroke="#000" stroke-width="0.2" textLength="28.5" lengthAdjust="spacingAndGlyphs">32.940</text>
<rect x="1686" y="125" width="2" height="1" fill="#000"/>
<text x="1690.5" y="129" font-size="9.6" fill="#000" stroke="#000" stroke-width="0.2" textLength="28.5" lengthAdjust="spacingAndGlyphs">30.665</text>
<rect x="1686" y="191" width="2" height="1" fill="#000"/>
<text x="1690.5" y="195" font-size="9.6" fill="#000" stroke="#000" stroke-width="0.2" textLength="28.5" lengthAdjust="spacingAndGlyphs">26.180</text>
<rect x="1686" y="224" width="2" height="1" fill="#000"/>
<text x="1690.5" y="228" font-size="9.6" fill="#000" stroke="#000" stroke-width="0.2" textLength="28.5" lengthAdjust="spacingAndGlyphs">23.970</text>
<rect x="1686" y="257" width="2" height="1" fill="#000"/>
<text x="1690.5" y="261" font-size="9.6" fill="#000" stroke="#000" stroke-width="0.2" textLength="28.5" lengthAdjust="spacingAndGlyphs">21.695</text>
<rect x="1686" y="290" width="2" height="1" fill="#000"/>
<text x="1690.5" y="294" font-size="9.6" fill="#000" stroke="#000" stroke-width="0.2" textLength="28.5" lengthAdjust="spacingAndGlyphs">19.420</text>
<rect x="1686" y="323" width="2" height="1" fill="#000"/>
<text x="1690.5" y="327" font-size="9.6" fill="#000" stroke="#000" stroke-width="0.2" textLength="28.5" lengthAdjust="spacingAndGlyphs">17.210</text>
<rect x="1686" y="356" width="2" height="1" fill="#000"/>
<text x="1690.5" y="360" font-size="9.6" fill="#000" stroke="#000" stroke-width="0.2" textLength="28.5" lengthAdjust="spacingAndGlyphs">14.935</text>
<rect x="1686" y="389" width="2" height="1" fill="#000"/>
<text x="1690.5" y="393" font-size="9.6" fill="#000" stroke="#000" stroke-width="0.2" textLength="28.5" lengthAdjust="spacingAndGlyphs">12.660</text>
<rect x="1686" y="422" width="2" height="1" fill="#000"/>
<text x="1690.5" y="426" font-size="9.6" fill="#000" stroke="#000" stroke-width="0.2" textLength="28.5" lengthAdjust="spacingAndGlyphs">10.450</text>
<rect x="1686" y="455" width="2" height="1" fill="#000"/>
<text x="1690.5" y="459" font-size="9.6" fill="#000" stroke="#000" stroke-width="0.2" textLength="23.0" lengthAdjust="spacingAndGlyphs">8.175</text>
<rect x="1686" y="488" width="2" height="1" fill="#000"/>
<text x="1690.5" y="492" font-size="9.6" fill="#000" stroke="#000" stroke-width="0.2" textLength="23.0" lengthAdjust="spacingAndGlyphs">5.965</text>
<rect x="1686" y="158" width="2" height="1" fill="#000"/>
<text x="1690.5" y="162" font-size="9.6" fill="#000" stroke="#000" stroke-width="0.2" textLength="28.5" lengthAdjust="spacingAndGlyphs">28.390</text>
<rect x="1686" y="59" width="2" height="1" fill="#000"/>
<text x="1690.5" y="63" font-size="9.6" fill="#000" stroke="#000" stroke-width="0.2" textLength="28.5" lengthAdjust="spacingAndGlyphs">35.215</text>
<rect x="1687" y="51" width="34" height="11" fill="#000000"/>
<text x="1690.5" y="60" font-size="9.6" fill="#fff" stroke="#fff" stroke-width="0.2" textLength="28.5" lengthAdjust="spacingAndGlyphs">35.400</text>
<rect x="1687" y="78" width="34" height="11" fill="#32cd32"/>
<text x="1690.5" y="87" font-size="9.6" fill="#fff" stroke="#fff" stroke-width="0.2" textLength="28.5" lengthAdjust="spacingAndGlyphs">33.500</text>
<rect x="1687" y="151" width="34" height="11" fill="#4169e1"/>
<text x="1690.5" y="160" font-size="9.6" fill="#fff" stroke="#fff" stroke-width="0.2" textLength="28.5" lengthAdjust="spacingAndGlyphs">28.500</text>
<rect x="1687" y="203" width="34" height="11" fill="#4169e1"/>
<text x="1690.5" y="212" font-size="9.6" fill="#fff" stroke="#fff" stroke-width="0.2" textLength="28.5" lengthAdjust="spacingAndGlyphs">25.000</text>
<rect x="1687" y="261" width="34" height="11" fill="#4169e1"/>
<text x="1690.5" y="270" font-size="9.6" fill="#fff" stroke="#fff" stroke-width="0.2" textLength="28.5" lengthAdjust="spacingAndGlyphs">21.000</text>
</g>
<g clip-path="url(#cd)">
<rect x="1" y="548" width="1" height="17" fill="#c0c0c0"/>
<rect x="9" y="548" width="1" height="21" fill="#c0c0c0"/>
<rect x="17" y="548" width="1" height="23" fill="#c0c0c0"/>
<rect x="25" y="548" width="1" height="24" fill="#c0c0c0"/>
<rect x="33" y="548" width="1" height="26" fill="#c0c0c0"/>
<rect x="41" y="548" width="1" height="28" fill="#c0c0c0"/>
<rect x="49" y="548" width="1" height="30" fill="#c0c0c0"/>
<rect x="57" y="548" width="1" height="31" fill="#c0c0c0"/>
<rect x="65" y="548" width="1" height="30" fill="#c0c0c0"/>
<rect x="73" y="548" width="1" height="18" fill="#c0c0c0"/>
<rect x="81" y="548" width="1" height="7" fill="#c0c0c0"/>
<rect x="89" y="548" width="1" height="1" fill="#c0c0c0"/>
<rect x="97" y="542" width="1" height="7" fill="#c0c0c0"/>
<rect x="105" y="539" width="1" height="10" fill="#c0c0c0"/>
<rect x="113" y="536" width="1" height="13" fill="#c0c0c0"/>
<rect x="121" y="533" width="1" height="16" fill="#c0c0c0"/>
<rect x="129" y="530" width="1" height="19" fill="#c0c0c0"/>
<rect x="137" y="531" width="1" height="18" fill="#c0c0c0"/>
<rect x="145" y="531" width="1" height="18" fill="#c0c0c0"/>
<rect x="153" y="532" width="1" height="17" fill="#c0c0c0"/>
<rect x="161" y="533" width="1" height="16" fill="#c0c0c0"/>
<rect x="169" y="534" width="1" height="15" fill="#c0c0c0"/>
<rect x="177" y="537" width="1" height="12" fill="#c0c0c0"/>
<rect x="185" y="540" width="1" height="9" fill="#c0c0c0"/>
<rect x="193" y="543" width="1" height="6" fill="#c0c0c0"/>
<rect x="201" y="548" width="1" height="1" fill="#c0c0c0"/>
<rect x="209" y="548" width="1" height="2" fill="#c0c0c0"/>
<rect x="217" y="548" width="1" height="7" fill="#c0c0c0"/>
<rect x="225" y="548" width="1" height="10" fill="#c0c0c0"/>
<rect x="233" y="548" width="1" height="13" fill="#c0c0c0"/>
<rect x="241" y="548" width="1" height="17" fill="#c0c0c0"/>
<rect x="249" y="548" width="1" height="28" fill="#c0c0c0"/>
<rect x="257" y="548" width="1" height="40" fill="#c0c0c0"/>
<rect x="265" y="548" width="1" height="50" fill="#c0c0c0"/>
<rect x="273" y="548" width="1" height="57" fill="#c0c0c0"/>
<rect x="281" y="548" width="1" height="67" fill="#c0c0c0"/>
<rect x="289" y="548" width="1" height="72" fill="#c0c0c0"/>
<rect x="297" y="548" width="1" height="76" fill="#c0c0c0"/>
<rect x="305" y="548" width="1" height="72" fill="#c0c0c0"/>
<rect x="313" y="548" width="1" height="70" fill="#c0c0c0"/>
<rect x="321" y="548" width="1" height="65" fill="#c0c0c0"/>
<rect x="329" y="548" width="1" height="62" fill="#c0c0c0"/>
<rect x="337" y="548" width="1" height="57" fill="#c0c0c0"/>
<rect x="345" y="548" width="1" height="50" fill="#c0c0c0"/>
<rect x="353" y="548" width="1" height="42" fill="#c0c0c0"/>
<rect x="361" y="548" width="1" height="36" fill="#c0c0c0"/>
<rect x="369" y="548" width="1" height="31" fill="#c0c0c0"/>
<rect x="377" y="548" width="1" height="24" fill="#c0c0c0"/>
<rect x="385" y="548" width="1" height="22" fill="#c0c0c0"/>
<rect x="393" y="548" width="1" height="20" fill="#c0c0c0"/>
<rect x="401" y="548" width="1" height="17" fill="#c0c0c0"/>
<rect x="409" y="548" width="1" height="14" fill="#c0c0c0"/>
<rect x="417" y="548" width="1" height="13" fill="#c0c0c0"/>
<rect x="425" y="548" width="1" height="12" fill="#c0c0c0"/>
<rect x="433" y="548" width="1" height="13" fill="#c0c0c0"/>
<rect x="441" y="548" width="1" height="15" fill="#c0c0c0"/>
<rect x="449" y="548" width="1" height="20" fill="#c0c0c0"/>
<rect x="457" y="548" width="1" height="24" fill="#c0c0c0"/>
<rect x="465" y="548" width="1" height="27" fill="#c0c0c0"/>
<rect x="473" y="548" width="1" height="30" fill="#c0c0c0"/>
<rect x="481" y="548" width="1" height="33" fill="#c0c0c0"/>
<rect x="489" y="548" width="1" height="38" fill="#c0c0c0"/>
<rect x="497" y="548" width="1" height="40" fill="#c0c0c0"/>
<rect x="505" y="548" width="1" height="39" fill="#c0c0c0"/>
<rect x="513" y="548" width="1" height="37" fill="#c0c0c0"/>
<rect x="521" y="548" width="1" height="33" fill="#c0c0c0"/>
<rect x="529" y="548" width="1" height="29" fill="#c0c0c0"/>
<rect x="537" y="548" width="1" height="24" fill="#c0c0c0"/>
<rect x="545" y="548" width="1" height="22" fill="#c0c0c0"/>
<rect x="553" y="548" width="1" height="16" fill="#c0c0c0"/>
<rect x="561" y="548" width="1" height="12" fill="#c0c0c0"/>
<rect x="569" y="548" width="1" height="7" fill="#c0c0c0"/>
<rect x="577" y="548" width="1" height="1" fill="#c0c0c0"/>
<rect x="585" y="546" width="1" height="3" fill="#c0c0c0"/>
<rect x="593" y="542" width="1" height="7" fill="#c0c0c0"/>
<rect x="601" y="538" width="1" height="11" fill="#c0c0c0"/>
<rect x="609" y="533" width="1" height="16" fill="#c0c0c0"/>
<rect x="617" y="528" width="1" height="21" fill="#c0c0c0"/>
<rect x="625" y="525" width="1" height="24" fill="#c0c0c0"/>
<rect x="633" y="524" width="1" height="25" fill="#c0c0c0"/>
<rect x="641" y="521" width="1" height="28" fill="#c0c0c0"/>
<rect x="649" y="521" width="1" height="28" fill="#c0c0c0"/>
<rect x="657" y="520" width="1" height="29" fill="#c0c0c0"/>
<rect x="665" y="520" width="1" height="29" fill="#c0c0c0"/>
<rect x="673" y="523" width="1" height="26" fill="#c0c0c0"/>
<rect x="681" y="523" width="1" height="26" fill="#c0c0c0"/>
<rect x="689" y="524" width="1" height="25" fill="#c0c0c0"/>
<rect x="697" y="525" width="1" height="24" fill="#c0c0c0"/>
<rect x="705" y="524" width="1" height="25" fill="#c0c0c0"/>
<rect x="713" y="523" width="1" height="26" fill="#c0c0c0"/>
<rect x="721" y="521" width="1" height="28" fill="#c0c0c0"/>
<rect x="729" y="518" width="1" height="31" fill="#c0c0c0"/>
<rect x="737" y="515" width="1" height="34" fill="#c0c0c0"/>
<rect x="745" y="514" width="1" height="35" fill="#c0c0c0"/>
<rect x="753" y="510" width="1" height="39" fill="#c0c0c0"/>
<rect x="761" y="507" width="1" height="42" fill="#c0c0c0"/>
<rect x="769" y="502" width="1" height="47" fill="#c0c0c0"/>
<rect x="777" y="502" width="1" height="47" fill="#c0c0c0"/>
<rect x="785" y="502" width="1" height="47" fill="#c0c0c0"/>
<rect x="793" y="503" width="1" height="46" fill="#c0c0c0"/>
<rect x="801" y="507" width="1" height="42" fill="#c0c0c0"/>
<rect x="809" y="508" width="1" height="41" fill="#c0c0c0"/>
<rect x="817" y="510" width="1" height="39" fill="#c0c0c0"/>
<rect x="825" y="511" width="1" height="38" fill="#c0c0c0"/>
<rect x="833" y="514" width="1" height="35" fill="#c0c0c0"/>
<rect x="841" y="511" width="1" height="38" fill="#c0c0c0"/>
<rect x="849" y="511" width="1" height="38" fill="#c0c0c0"/>
<rect x="857" y="515" width="1" height="34" fill="#c0c0c0"/>
<rect x="865" y="518" width="1" height="31" fill="#c0c0c0"/>
<rect x="873" y="521" width="1" height="28" fill="#c0c0c0"/>
<rect x="881" y="522" width="1" height="27" fill="#c0c0c0"/>
<rect x="889" y="524" width="1" height="25" fill="#c0c0c0"/>
<rect x="897" y="526" width="1" height="23" fill="#c0c0c0"/>
<rect x="905" y="526" width="1" height="23" fill="#c0c0c0"/>
<rect x="913" y="527" width="1" height="22" fill="#c0c0c0"/>
<rect x="921" y="528" width="1" height="21" fill="#c0c0c0"/>
<rect x="929" y="529" width="1" height="20" fill="#c0c0c0"/>
<rect x="937" y="531" width="1" height="18" fill="#c0c0c0"/>
<rect x="945" y="533" width="1" height="16" fill="#c0c0c0"/>
<rect x="953" y="534" width="1" height="15" fill="#c0c0c0"/>
<rect x="961" y="534" width="1" height="15" fill="#c0c0c0"/>
<rect x="969" y="535" width="1" height="14" fill="#c0c0c0"/>
<rect x="977" y="536" width="1" height="13" fill="#c0c0c0"/>
<rect x="985" y="536" width="1" height="13" fill="#c0c0c0"/>
<rect x="993" y="535" width="1" height="14" fill="#c0c0c0"/>
<rect x="1001" y="535" width="1" height="14" fill="#c0c0c0"/>
<rect x="1009" y="535" width="1" height="14" fill="#c0c0c0"/>
<rect x="1017" y="535" width="1" height="14" fill="#c0c0c0"/>
<rect x="1025" y="534" width="1" height="15" fill="#c0c0c0"/>
<rect x="1033" y="535" width="1" height="14" fill="#c0c0c0"/>
<rect x="1041" y="535" width="1" height="14" fill="#c0c0c0"/>
<rect x="1049" y="535" width="1" height="14" fill="#c0c0c0"/>
<rect x="1057" y="536" width="1" height="13" fill="#c0c0c0"/>
<rect x="1065" y="535" width="1" height="14" fill="#c0c0c0"/>
<rect x="1073" y="536" width="1" height="13" fill="#c0c0c0"/>
<rect x="1081" y="535" width="1" height="14" fill="#c0c0c0"/>
<rect x="1089" y="534" width="1" height="15" fill="#c0c0c0"/>
<rect x="1097" y="534" width="1" height="15" fill="#c0c0c0"/>
<rect x="1105" y="531" width="1" height="18" fill="#c0c0c0"/>
<rect x="1113" y="529" width="1" height="20" fill="#c0c0c0"/>
<rect x="1121" y="528" width="1" height="21" fill="#c0c0c0"/>
<rect x="1129" y="526" width="1" height="23" fill="#c0c0c0"/>
<rect x="1137" y="525" width="1" height="24" fill="#c0c0c0"/>
<rect x="1145" y="523" width="1" height="26" fill="#c0c0c0"/>
<rect x="1153" y="521" width="1" height="28" fill="#c0c0c0"/>
<rect x="1161" y="520" width="1" height="29" fill="#c0c0c0"/>
<rect x="1169" y="518" width="1" height="31" fill="#c0c0c0"/>
<rect x="1177" y="517" width="1" height="32" fill="#c0c0c0"/>
<rect x="1185" y="515" width="1" height="34" fill="#c0c0c0"/>
<rect x="1193" y="512" width="1" height="37" fill="#c0c0c0"/>
<rect x="1201" y="509" width="1" height="40" fill="#c0c0c0"/>
<rect x="1209" y="508" width="1" height="41" fill="#c0c0c0"/>
<rect x="1217" y="507" width="1" height="42" fill="#c0c0c0"/>
<rect x="1225" y="509" width="1" height="40" fill="#c0c0c0"/>
<rect x="1233" y="510" width="1" height="39" fill="#c0c0c0"/>
<rect x="1241" y="511" width="1" height="38" fill="#c0c0c0"/>
<rect x="1249" y="514" width="1" height="35" fill="#c0c0c0"/>
<rect x="1257" y="515" width="1" height="34" fill="#c0c0c0"/>
<rect x="1265" y="517" width="1" height="32" fill="#c0c0c0"/>
<rect x="1273" y="518" width="1" height="31" fill="#c0c0c0"/>
<rect x="1281" y="520" width="1" height="29" fill="#c0c0c0"/>
<rect x="1289" y="520" width="1" height="29" fill="#c0c0c0"/>
<rect x="1297" y="519" width="1" height="30" fill="#c0c0c0"/>
<rect x="1305" y="518" width="1" height="31" fill="#c0c0c0"/>
<rect x="1313" y="518" width="1" height="31" fill="#c0c0c0"/>
<rect x="1321" y="518" width="1" height="31" fill="#c0c0c0"/>
<rect x="1329" y="518" width="1" height="31" fill="#c0c0c0"/>
<rect x="1337" y="518" width="1" height="31" fill="#c0c0c0"/>
<rect x="1345" y="518" width="1" height="31" fill="#c0c0c0"/>
<rect x="1353" y="518" width="1" height="31" fill="#c0c0c0"/>
<rect x="1361" y="520" width="1" height="29" fill="#c0c0c0"/>
<rect x="1369" y="525" width="1" height="24" fill="#c0c0c0"/>
<rect x="1377" y="530" width="1" height="19" fill="#c0c0c0"/>
<rect x="1385" y="532" width="1" height="17" fill="#c0c0c0"/>
<rect x="1393" y="533" width="1" height="16" fill="#c0c0c0"/>
<rect x="1401" y="533" width="1" height="16" fill="#c0c0c0"/>
<rect x="1409" y="533" width="1" height="16" fill="#c0c0c0"/>
<rect x="1417" y="534" width="1" height="15" fill="#c0c0c0"/>
<rect x="1425" y="534" width="1" height="15" fill="#c0c0c0"/>
<rect x="1433" y="535" width="1" height="14" fill="#c0c0c0"/>
<rect x="1441" y="535" width="1" height="14" fill="#c0c0c0"/>
<rect x="1449" y="535" width="1" height="14" fill="#c0c0c0"/>
<rect x="1457" y="535" width="1" height="14" fill="#c0c0c0"/>
<rect x="1465" y="535" width="1" height="14" fill="#c0c0c0"/>
<rect x="1473" y="535" width="1" height="14" fill="#c0c0c0"/>
<rect x="1481" y="534" width="1" height="15" fill="#c0c0c0"/>
<rect x="1489" y="535" width="1" height="14" fill="#c0c0c0"/>
<rect x="1497" y="536" width="1" height="13" fill="#c0c0c0"/>
<rect x="1505" y="536" width="1" height="13" fill="#c0c0c0"/>
<rect x="1513" y="536" width="1" height="13" fill="#c0c0c0"/>
<rect x="1521" y="536" width="1" height="13" fill="#c0c0c0"/>
<rect x="1529" y="538" width="1" height="11" fill="#c0c0c0"/>
<rect x="1537" y="539" width="1" height="10" fill="#c0c0c0"/>
<rect x="1545" y="541" width="1" height="8" fill="#c0c0c0"/>
<rect x="1553" y="544" width="1" height="5" fill="#c0c0c0"/>
<rect x="1561" y="547" width="1" height="2" fill="#c0c0c0"/>
<rect x="1569" y="548" width="1" height="1" fill="#c0c0c0"/>
<rect x="1577" y="548" width="1" height="3" fill="#c0c0c0"/>
<rect x="1585" y="548" width="1" height="3" fill="#c0c0c0"/>
<rect x="1593" y="548" width="1" height="2" fill="#c0c0c0"/>
<rect x="1601" y="548" width="1" height="1" fill="#c0c0c0"/>
<rect x="1609" y="548" width="1" height="1" fill="#c0c0c0"/>
<rect x="1617" y="548" width="1" height="1" fill="#c0c0c0"/>
<rect x="1625" y="547" width="1" height="2" fill="#c0c0c0"/>
<rect x="1633" y="548" width="1" height="1" fill="#c0c0c0"/>
<rect x="1641" y="548" width="1" height="1" fill="#c0c0c0"/>
<rect x="1649" y="545" width="1" height="4" fill="#c0c0c0"/>
<rect x="1657" y="542" width="1" height="7" fill="#c0c0c0"/>
<rect x="1665" y="540" width="1" height="9" fill="#c0c0c0"/>
<polyline points="0.5,562.5 9.5,564.5 18.5,565.5 26.5,566.5 35.5,569.5 44.5,570.5 53.5,572.5 62.5,573.5 71.5,574.5 79.5,572.5 88.5,569.5 97.5,565.5 106.5,562.5 115.5,556.5 124.5,551.5 132.5,545.5 141.5,539.5 150.5,535.5 159.5,534.5 168.5,532.5 185.5,532.5 194.5,533.5 203.5,536.5 212.5,539.5 221.5,543.5 229.5,547.5 238.5,548.5 247.5,554.5 256.5,560.5 265.5,567.5 274.5,573.5 282.5,582.5 291.5,590.5 296.5,594.5 305.5,600.5 314.5,607.5 322.5,612.5 331.5,614.5 340.5,615.5 349.5,612.5 358.5,608.5 367.5,603.5 375.5,598.5 384.5,592.5 393.5,586.5 402.5,580.5 411.5,576.5 420.5,571.5 428.5,568.5 437.5,566.5 446.5,564.5 455.5,564.5 464.5,565.5 472.5,566.5 481.5,569.5 490.5,573.5 499.5,576.5 508.5,578.5 517.5,581.5 525.5,582.5 534.5,582.5 543.5,580.5 552.5,579.5 561.5,576.5 570.5,571.5 578.5,567.5 587.5,562.5 592.5,559.5 601.5,554.5 610.5,550.5 618.5,545.5 627.5,540.5 636.5,535.5 645.5,531.5 654.5,527.5 663.5,525.5 671.5,523.5 680.5,522.5 733.5,521.5 742.5,520.5 751.5,518.5 760.5,516.5 768.5,514.5 777.5,511.5 786.5,508.5 795.5,507.5 804.5,506.5 813.5,504.5 821.5,504.5 830.5,505.5 839.5,506.5 848.5,507.5 857.5,508.5 866.5,511.5 874.5,512.5 883.5,513.5 888.5,515.5 897.5,517.5 906.5,518.5 914.5,520.5 923.5,523.5 932.5,524.5 941.5,525.5 950.5,527.5 959.5,528.5 967.5,530.5 976.5,531.5 985.5,532.5 994.5,533.5 1003.5,533.5 1012.5,534.5 1100.5,534.5 1109.5,533.5 1117.5,532.5 1126.5,531.5 1135.5,530.5 1144.5,529.5 1153.5,527.5 1162.5,525.5 1170.5,523.5 1179.5,522.5 1184.5,520.5 1193.5,519.5 1202.5,517.5 1210.5,515.5 1219.5,513.5 1228.5,511.5 1237.5,510.5 1269.5,510.5 1272.5,511.5 1281.5,512.5 1290.5,513.5 1299.5,515.5 1308.5,516.5 1316.5,517.5 1343.5,517.5 1352.5,518.5 1369.5,518.5 1378.5,519.5 1387.5,521.5 1396.5,523.5 1405.5,524.5 1413.5,527.5 1422.5,528.5 1431.5,531.5 1440.5,532.5 1449.5,533.5 1475.5,533.5 1484.5,534.5 1524.5,534.5 1533.5,535.5 1542.5,536.5 1551.5,537.5 1559.5,539.5 1568.5,540.5 1577.5,542.5 1586.5,544.5 1595.5,546.5 1603.5,547.5 1612.5,548.5 1621.5,550.5 1630.5,550.5 1639.5,550.5 1648.5,549.5 1656.5,547.5 1665.5,546.5" fill="none" stroke="#ff0000" stroke-width="1" stroke-dasharray="3,3"/>
</g>
<g font-family="Liberation Sans, DejaVu Sans, sans-serif">
<text x="5.5" y="506" font-size="9.6" fill="#000" stroke="#000" stroke-width="0.2" textLength="127.5" lengthAdjust="spacingAndGlyphs">MACD(12,26,9) 0.4081 0.0765</text>
<rect x="1686" y="494" width="2" height="1" fill="#000"/>
<text x="1689.2" y="504" font-size="9.6" fill="#000" stroke="#000" stroke-width="0.2" textLength="28.5" lengthAdjust="spacingAndGlyphs">2.3072</text>
<rect x="1686" y="548" width="2" height="1" fill="#000"/>
<text x="1689.5" y="552" font-size="9.6" fill="#000" stroke="#000" stroke-width="0.2" textLength="18" lengthAdjust="spacingAndGlyphs">0.00</text>
<rect x="1686" y="630" width="2" height="1" fill="#000"/>
<text x="1689" y="628" font-size="9.6" fill="#000" stroke="#000" stroke-width="0.2" textLength="31" lengthAdjust="spacingAndGlyphs">-3.5484</text>
</g>
<g clip-path="url(#cr)">
<line x1="2" y1="672.5" x2="1685" y2="672.5" stroke="#c0c0c0" stroke-width="1" stroke-dasharray="3,3"/>
<line x1="2" y1="721.5" x2="1685" y2="721.5" stroke="#c0c0c0" stroke-width="1" stroke-dasharray="3,3"/>
<polyline points="0.5,716.5 1.5,716.5 9.5,720.5 17.5,722.5 25.5,720.5 33.5,722.5 41.5,726.5 49.5,727.5 57.5,727.5 65.5,721.5 73.5,675.5 81.5,674.5 89.5,677.5 97.5,676.5 105.5,685.5 113.5,682.5 121.5,680.5 129.5,680.5 137.5,687.5 145.5,687.5 153.5,690.5 161.5,691.5 169.5,690.5 177.5,697.5 185.5,702.5 193.5,703.5 201.5,713.5 209.5,705.5 217.5,714.5 225.5,714.5 233.5,712.5 241.5,717.5 249.5,731.5 257.5,736.5 265.5,737.5 273.5,729.5 281.5,734.5 289.5,732.5 297.5,732.5 305.5,713.5 313.5,715.5 321.5,711.5 329.5,711.5 337.5,707.5 345.5,703.5 353.5,694.5 361.5,698.5 369.5,698.5 377.5,695.5 385.5,700.5 393.5,699.5 401.5,698.5 409.5,698.5 417.5,697.5 425.5,700.5 433.5,705.5 441.5,710.5 449.5,715.5 457.5,720.5 465.5,714.5 473.5,717.5 481.5,721.5 489.5,723.5 497.5,722.5 505.5,710.5 513.5,707.5 521.5,704.5 529.5,699.5 537.5,699.5 545.5,699.5 553.5,688.5 561.5,692.5 569.5,688.5 577.5,681.5 585.5,685.5 593.5,683.5 601.5,681.5 609.5,677.5 617.5,674.5 625.5,674.5 633.5,680.5 641.5,675.5 649.5,683.5 657.5,680.5 665.5,680.5 673.5,687.5 681.5,685.5 689.5,688.5 697.5,685.5 705.5,682.5 713.5,675.5 721.5,675.5 729.5,673.5 737.5,670.5 745.5,670.5 753.5,666.5 761.5,663.5 769.5,660.5 777.5,672.5 785.5,673.5 793.5,675.5 801.5,682.5 809.5,678.5 817.5,680.5 825.5,679.5 833.5,681.5 841.5,670.5 849.5,677.5 857.5,692.5 865.5,690.5 873.5,689.5 881.5,685.5 889.5,690.5 897.5,689.5 905.5,686.5 913.5,686.5 921.5,687.5 929.5,687.5 937.5,692.5 945.5,692.5 953.5,688.5 961.5,687.5 969.5,689.5 977.5,690.5 985.5,687.5 993.5,681.5 1001.5,681.5 1009.5,680.5 1017.5,685.5 1025.5,683.5 1033.5,686.5 1041.5,682.5 1049.5,685.5 1057.5,688.5 1065.5,682.5 1073.5,685.5 1081.5,681.5 1089.5,679.5 1097.5,677.5 1105.5,669.5 1113.5,668.5 1121.5,668.5 1129.5,663.5 1137.5,671.5 1145.5,667.5 1153.5,664.5 1161.5,663.5 1169.5,660.5 1177.5,661.5 1185.5,658.5 1193.5,654.5 1201.5,653.5 1209.5,663.5 1217.5,660.5 1225.5,674.5 1233.5,672.5 1241.5,673.5 1249.5,679.5 1257.5,676.5 1265.5,679.5 1273.5,676.5 1281.5,682.5 1289.5,675.5 1297.5,673.5 1305.5,670.5 1313.5,670.5 1321.5,670.5 1329.5,668.5 1337.5,669.5 1345.5,671.5 1353.5,670.5 1361.5,670.5 1369.5,697.5 1377.5,701.5 1385.5,693.5 1393.5,689.5 1401.5,684.5 1409.5,683.5 1417.5,691.5 1425.5,685.5 1433.5,686.5 1441.5,687.5 1449.5,683.5 1457.5,682.5 1465.5,684.5 1473.5,681.5 1481.5,679.5 1489.5,684.5 1497.5,691.5 1505.5,686.5 1513.5,687.5 1521.5,685.5 1529.5,693.5 1537.5,691.5 1545.5,700.5 1553.5,702.5 1561.5,712.5 1569.5,716.5 1577.5,710.5 1585.5,697.5 1593.5,694.5 1601.5,691.5 1609.5,691.5 1617.5,695.5 1625.5,701.5 1633.5,698.5 1641.5,692.5 1649.5,679.5 1657.5,678.5 1665.5,677.5" fill="none" stroke="#1e90ff" stroke-width="1" stroke-width="1.2"/>
</g>
<g font-family="Liberation Sans, DejaVu Sans, sans-serif">
<text x="5.2" y="646" font-size="9.6" fill="#000" stroke="#000" stroke-width="0.2" textLength="67.5" lengthAdjust="spacingAndGlyphs">RSI(14) 65.8522</text>
<rect x="1686" y="634" width="2" height="1" fill="#000"/>
<text x="1689.5" y="644" font-size="9.6" fill="#000" stroke="#000" stroke-width="0.2" textLength="15.5" lengthAdjust="spacingAndGlyphs">100</text>
<rect x="1686" y="672" width="2" height="1" fill="#000"/>
<text x="1689.5" y="676" font-size="9.6" fill="#000" stroke="#000" stroke-width="0.2" textLength="10.5" lengthAdjust="spacingAndGlyphs">70</text>
<rect x="1686" y="721" width="2" height="1" fill="#000"/>
<text x="1689.5" y="725" font-size="9.6" fill="#000" stroke="#000" stroke-width="0.2" textLength="10.5" lengthAdjust="spacingAndGlyphs">30</text>
<rect x="1686" y="758" width="2" height="1" fill="#000"/>
<text x="1689.5" y="756" font-size="9.6" fill="#000" stroke="#000" stroke-width="0.2" textLength="5.5" lengthAdjust="spacingAndGlyphs">0</text>
</g>
<g font-family="Liberation Sans, DejaVu Sans, sans-serif">
<rect x="1" y="760" width="1" height="3" fill="#000"/>
<text x="1" y="772" font-size="9.6" fill="#000" stroke="#000" stroke-width="0.2" textLength="50" lengthAdjust="spacingAndGlyphs">14 Apr 2020</text>
<rect x="65" y="760" width="1" height="3" fill="#000"/>
<text x="65" y="772" font-size="9.6" fill="#000" stroke="#000" stroke-width="0.2" textLength="53.5" lengthAdjust="spacingAndGlyphs">15 Apr 16:00</text>
<rect x="129" y="760" width="1" height="3" fill="#000"/>
<text x="129" y="772" font-size="9.6" fill="#000" stroke="#000" stroke-width="0.2" textLength="53.5" lengthAdjust="spacingAndGlyphs">17 Apr 00:00</text>
<rect x="193" y="760" width="1" height="3" fill="#000"/>
<text x="193" y="772" font-size="9.6" fill="#000" stroke="#000" stroke-width="0.2" textLength="53.5" lengthAdjust="spacingAndGlyphs">20 Apr 04:00</text>
<rect x="257" y="760" width="1" height="3" fill="#000"/>
<text x="257" y="772" font-size="9.6" fill="#000" stroke="#000" stroke-width="0.2" textLength="53.5" lengthAdjust="spacingAndGlyphs">21 Apr 12:00</text>
<rect x="321" y="760" width="1" height="3" fill="#000"/>
<text x="321" y="772" font-size="9.6" fill="#000" stroke="#000" stroke-width="0.2" textLength="53.5" lengthAdjust="spacingAndGlyphs">22 Apr 20:00</text>
<rect x="385" y="760" width="1" height="3" fill="#000"/>
<text x="385" y="772" font-size="9.6" fill="#000" stroke="#000" stroke-width="0.2" textLength="53.5" lengthAdjust="spacingAndGlyphs">24 Apr 04:00</text>
<rect x="449" y="760" width="1" height="3" fill="#000"/>
<text x="449" y="772" font-size="9.6" fill="#000" stroke="#000" stroke-width="0.2" textLength="53.5" lengthAdjust="spacingAndGlyphs">27 Apr 08:00</text>
<rect x="513" y="760" width="1" height="3" fill="#000"/>
<text x="513" y="772" font-size="9.6" fill="#000" stroke="#000" stroke-width="0.2" textLength="53.5" lengthAdjust="spacingAndGlyphs">28 Apr 16:00</text>
<rect x="577" y="760" width="1" height="3" fill="#000"/>
<text x="577" y="772" font-size="9.6" fill="#000" stroke="#000" stroke-width="0.2" textLength="53.5" lengthAdjust="spacingAndGlyphs">30 Apr 00:00</text>
<rect x="641" y="760" width="1" height="3" fill="#000"/>
<text x="641" y="772" font-size="9.6" fill="#000" stroke="#000" stroke-width="0.2" textLength="52.0" lengthAdjust="spacingAndGlyphs">1 May 08:00</text>
<rect x="705" y="760" width="1" height="3" fill="#000"/>
<text x="705" y="772" font-size="9.6" fill="#000" stroke="#000" stroke-width="0.2" textLength="52.0" lengthAdjust="spacingAndGlyphs">4 May 12:00</text>
<rect x="769" y="760" width="1" height="3" fill="#000"/>
<text x="769" y="772" font-size="9.6" fill="#000" stroke="#000" stroke-width="0.2" textLength="52.0" lengthAdjust="spacingAndGlyphs">5 May 20:00</text>
<rect x="833" y="760" width="1" height="3" fill="#000"/>
<text x="833" y="772" font-size="9.6" fill="#000" stroke="#000" stroke-width="0.2" textLength="52.0" lengthAdjust="spacingAndGlyphs">7 May 04:00</text>
<rect x="897" y="760" width="1" height="3" fill="#000"/>
<text x="897" y="772" font-size="9.6" fill="#000" stroke="#000" stroke-width="0.2" textLength="52.0" lengthAdjust="spacingAndGlyphs">8 May 12:00</text>
<rect x="961" y="760" width="1" height="3" fill="#000"/>
<text x="961" y="772" font-size="9.6" fill="#000" stroke="#000" stroke-width="0.2" textLength="56.5" lengthAdjust="spacingAndGlyphs">11 May 16:00</text>
<rect x="1025" y="760" width="1" height="3" fill="#000"/>
<text x="1025" y="772" font-size="9.6" fill="#000" stroke="#000" stroke-width="0.2" textLength="57.2" lengthAdjust="spacingAndGlyphs">13 May 00:00</text>
<rect x="1089" y="760" width="1" height="3" fill="#000"/>
<text x="1089" y="772" font-size="9.6" fill="#000" stroke="#000" stroke-width="0.2" textLength="57.2" lengthAdjust="spacingAndGlyphs">14 May 08:00</text>
<rect x="1153" y="760" width="1" height="3" fill="#000"/>
<text x="1153" y="772" font-size="9.6" fill="#000" stroke="#000" stroke-width="0.2" textLength="57.2" lengthAdjust="spacingAndGlyphs">15 May 16:00</text>
<rect x="1217" y="760" width="1" height="3" fill="#000"/>
<text x="1217" y="772" font-size="9.6" fill="#000" stroke="#000" stroke-width="0.2" textLength="57.2" lengthAdjust="spacingAndGlyphs">18 May 20:00</text>
<rect x="1281" y="760" width="1" height="3" fill="#000"/>
<text x="1281" y="772" font-size="9.6" fill="#000" stroke="#000" stroke-width="0.2" textLength="57.2" lengthAdjust="spacingAndGlyphs">20 May 04:00</text>
<rect x="1345" y="760" width="1" height="3" fill="#000"/>
<text x="1345" y="772" font-size="9.6" fill="#000" stroke="#000" stroke-width="0.2" textLength="57.2" lengthAdjust="spacingAndGlyphs">21 May 12:00</text>
<rect x="1409" y="760" width="1" height="3" fill="#000"/>
<text x="1409" y="772" font-size="9.6" fill="#000" stroke="#000" stroke-width="0.2" textLength="57.2" lengthAdjust="spacingAndGlyphs">22 May 20:00</text>
<rect x="1473" y="760" width="1" height="3" fill="#000"/>
<text x="1473" y="772" font-size="9.6" fill="#000" stroke="#000" stroke-width="0.2" textLength="57.2" lengthAdjust="spacingAndGlyphs">26 May 00:00</text>
<rect x="1537" y="760" width="1" height="3" fill="#000"/>
<text x="1537" y="772" font-size="9.6" fill="#000" stroke="#000" stroke-width="0.2" textLength="57.2" lengthAdjust="spacingAndGlyphs">27 May 08:00</text>
<rect x="1601" y="760" width="1" height="3" fill="#000"/>
<text x="1601" y="772" font-size="9.6" fill="#000" stroke="#000" stroke-width="0.2" textLength="57.2" lengthAdjust="spacingAndGlyphs">28 May 16:00</text>
<rect x="1665" y="760" width="1" height="3" fill="#000"/>
<text x="1665" y="772" font-size="9.6" fill="#000" stroke="#000" stroke-width="0.2" textLength="57.2" lengthAdjust="spacingAndGlyphs">31 May 23:00</text>
</g>
<rect x="0" y="780" width="1721" height="1" fill="#e3e3e3"/></svg>
</body></html>
